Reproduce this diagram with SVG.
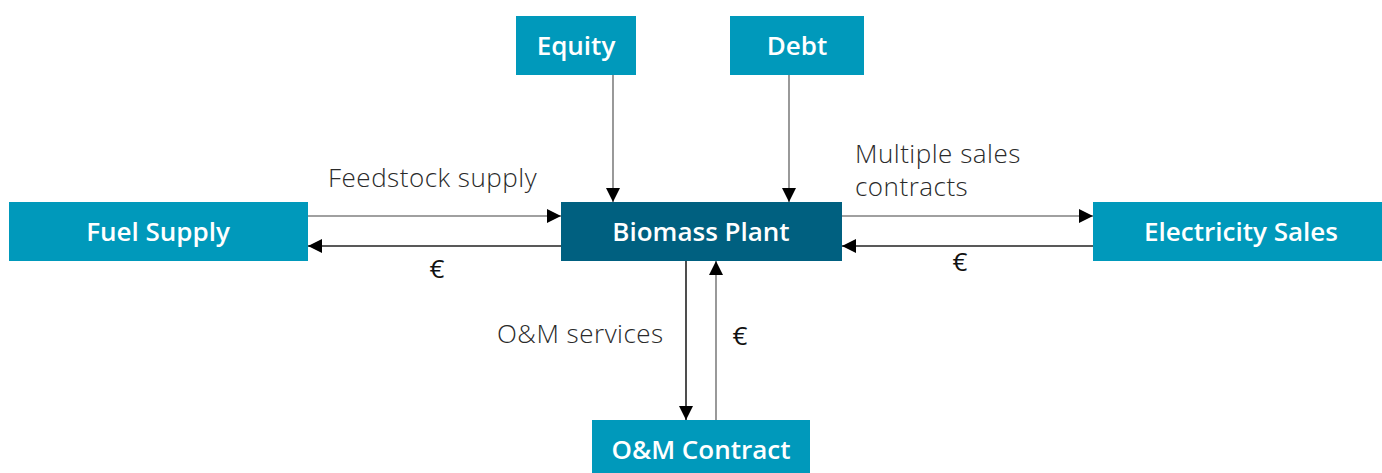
<svg xmlns="http://www.w3.org/2000/svg" width="1382" height="473" viewBox="0 0 1382 473">
<style>
.light{fill:#0099bb}
.dark{fill:#006080}
.nl{font-family:"Open Sans",Lato,sans-serif;font-weight:600;font-size:26px;fill:#ffffff;text-anchor:middle}
.el{font-family:"Open Sans",Lato,sans-serif;font-weight:300;font-size:26px;letter-spacing:0.5px;fill:#2a2a2a}
.eu{font-family:"Open Sans",Lato,sans-serif;font-weight:400;font-size:26px;fill:#111111;text-anchor:middle}
.g{stroke:#808080;stroke-width:1.6;fill:none}
.k{stroke:#222222;stroke-width:1.6;fill:none}
</style>
<defs>
<marker id="ah" markerUnits="userSpaceOnUse" markerWidth="14" markerHeight="14" refX="14" refY="7" orient="auto">
<path d="M0,0 L14,7 L0,14 z" fill="#000"/>
</marker>
</defs>
<rect width="1382" height="473" fill="#ffffff"/>
<g id="connectors">
<line class="g" x1="613" y1="75" x2="613" y2="202" marker-end="url(#ah)"/>
<line class="g" x1="789" y1="75" x2="789" y2="202" marker-end="url(#ah)"/>
<line class="g" x1="308" y1="216" x2="561" y2="216" marker-end="url(#ah)"/>
<line class="k" x1="561" y1="246" x2="308" y2="246" marker-end="url(#ah)"/>
<line class="g" x1="842" y1="216" x2="1093" y2="216" marker-end="url(#ah)"/>
<line class="k" x1="1093" y1="246" x2="842" y2="246" marker-end="url(#ah)"/>
<line class="k" x1="686" y1="261" x2="686" y2="420" marker-end="url(#ah)"/>
<line class="g" x1="716" y1="420" x2="716" y2="261" marker-end="url(#ah)"/>
<text class="el" x="328" y="187">Feedstock supply</text>
<text class="eu" x="437" y="278">€</text>
<text class="el" x="855" y="163">Multiple sales</text>
<text class="el" x="855" y="196">contracts</text>
<text class="eu" x="960" y="271">€</text>
<text class="el" x="497" y="343">O&amp;M services</text>
<text class="eu" x="740" y="345">€</text>
</g>
<g id="equity"><rect class="light" x="516" y="16" width="120" height="59"/><text class="nl" x="576" y="55">Equity</text></g>
<g id="debt"><rect class="light" x="730" y="16" width="134" height="59"/><text class="nl" x="797" y="55">Debt</text></g>
<g id="fuel-supply"><rect class="light" x="9" y="202" width="299" height="59"/><text class="nl" x="158" y="241">Fuel Supply</text></g>
<g id="biomass-plant"><rect class="dark" x="561" y="202" width="281" height="59"/><text class="nl" x="701" y="241">Biomass Plant</text></g>
<g id="electricity-sales"><rect class="light" x="1093" y="202" width="289" height="59"/><text class="nl" x="1241" y="241">Electricity Sales</text></g>
<g id="om-contract"><rect class="light" x="592" y="420" width="218" height="53"/><text class="nl" x="701" y="459">O&amp;M Contract</text></g>
</svg>
